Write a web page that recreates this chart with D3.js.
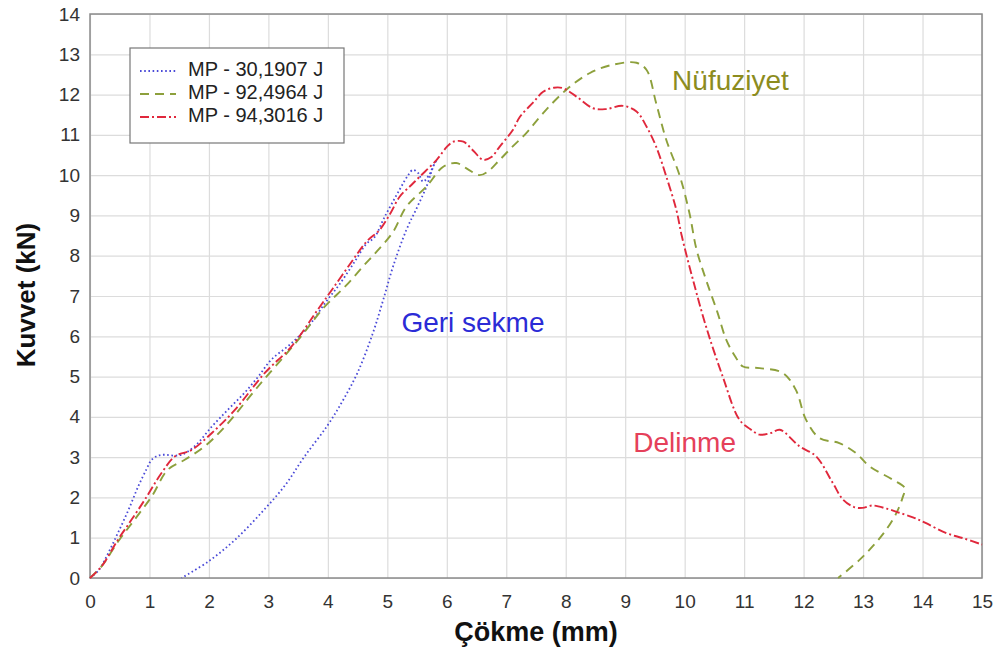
<!DOCTYPE html>
<html>
<head>
<meta charset="utf-8">
<script src="https://cdn.jsdelivr.net/npm/d3@7"></script>
<style>
  body { margin: 0; background: #fff; }
  text { font-family: Arial, "Liberation Sans", sans-serif; }
</style>
</head>
<body>
<svg id="chart" width="1000" height="655"></svg>
<script>
// ---- data ----
const xTicks = d3.range(0, 16);
const yTicks = d3.range(0, 15);

const seriesNames = ["MP - 30,1907 J", "MP - 92,4964 J", "MP - 94,3016 J"];

const blueX = [0, 0.15, 0.3, 0.47, 0.65, 0.81, 0.95, 1.04, 1.15, 1.26, 1.4, 1.54, 1.76, 2.05, 2.32, 2.6, 2.83, 3.05, 3.39, 3.7, 3.95, 4.2, 4.45, 4.65, 4.78, 4.95, 5.21, 5.35, 5.43, 5.52, 5.6, 5.7, 5.78, 5.83,
  5.77, 5.66, 5.5, 5.32, 5.1, 4.93, 4.75, 4.5, 4.25, 4.0, 3.6, 3.28, 2.9, 2.44, 2.0, 1.54];
const blueY = [0, 0.2, 0.6, 1.12, 1.7, 2.27, 2.7, 2.94, 3.04, 3.06, 3.04, 3.06, 3.27, 3.76, 4.18, 4.6, 5.0, 5.42, 5.83, 6.3, 6.82, 7.3, 7.85, 8.3, 8.45, 8.95, 9.65, 10.0, 10.13, 10.05, 9.84, 10.0, 10.25, 10.38,
  10.2, 9.72, 9.2, 8.64, 7.75, 6.9, 6.05, 5.1, 4.4, 3.8, 3.0, 2.3, 1.65, 0.95, 0.42, 0];

const greenX = [0, 0.2, 0.47, 0.75, 1.04, 1.31, 1.6, 1.93, 2.27, 2.83, 3.5, 3.95, 4.3, 4.6, 4.82, 5.1, 5.32, 5.66, 5.94, 6.16, 6.35, 6.55, 6.7, 6.89, 7.1, 7.34, 7.62, 8.01, 8.4, 8.79, 9.19, 9.36, 9.52, 9.69, 9.92, 10.08, 10.2, 10.36, 10.55, 10.7, 10.85, 10.98, 11.26, 11.65, 11.87, 12.04, 12.27, 12.6, 12.88, 13.11, 13.5, 13.7,
  13.67, 13.56, 13.39, 13.2, 12.94, 12.58];
const greenY = [0, 0.3, 0.9, 1.45, 2.03, 2.69, 2.94, 3.27, 3.76, 4.76, 5.91, 6.74, 7.25, 7.75, 8.1, 8.6, 9.22, 9.72, 10.21, 10.3, 10.15, 10.0, 10.1, 10.38, 10.7, 11.05, 11.54, 12.12, 12.53, 12.74, 12.79, 12.61, 11.79, 10.88, 9.97, 9.06, 8.15, 7.4, 6.6, 5.91, 5.5, 5.25, 5.21, 5.09, 4.67, 3.93, 3.47, 3.35, 3.1, 2.77, 2.44, 2.23,
  2.02, 1.61, 1.2, 0.85, 0.45, 0];

const redX = [0, 0.2, 0.47, 0.7, 0.92, 1.2, 1.43, 1.71, 2.05, 2.44, 2.94, 3.39, 3.83, 4.09, 4.4, 4.65, 4.87, 5.05, 5.21, 5.4, 5.55, 5.83, 6.0, 6.11, 6.28, 6.45, 6.61, 6.75, 6.89, 7.11, 7.23, 7.45, 7.62, 7.8, 7.95, 8.18, 8.46, 8.68, 8.96, 9.19, 9.36, 9.52, 9.69, 9.86, 9.95, 10.14, 10.36, 10.64, 10.92, 11.1, 11.26, 11.45, 11.6, 11.93, 12.21, 12.49, 12.66, 12.85, 12.99, 13.16, 13.4, 13.61, 13.85, 14.06, 14.39, 14.7, 15];
const redY = [0, 0.3, 0.95, 1.45, 1.94, 2.6, 3.02, 3.18, 3.6, 4.18, 5.09, 5.75, 6.66, 7.2, 7.85, 8.35, 8.64, 9.05, 9.47, 9.75, 9.97, 10.38, 10.7, 10.83, 10.83, 10.6, 10.38, 10.45, 10.71, 11.12, 11.45, 11.8, 12.07, 12.17, 12.16, 11.95, 11.66, 11.64, 11.72, 11.58, 11.2, 10.71, 9.97, 9.14, 8.5, 7.4, 6.24, 5.0, 3.93, 3.7, 3.56, 3.6, 3.68, 3.27, 3.02, 2.36, 1.95, 1.76, 1.74, 1.8, 1.72, 1.62, 1.5, 1.36, 1.12, 0.98, 0.83];

const annotations = [
  { text: "Geri sekme", x: 6.44, y: 6.29, color: "#2b2bd6" },
  { text: "Nüfuziyet", x: 10.77, y: 12.29, color: "#8c8c1e" },
  { text: "Delinme", x: 10.0, y: 3.31, color: "#e5405a" }
];

// ---- layout ----
const margin = { top: 14, right: 18, bottom: 77, left: 90 };
const width = 1000, height = 655;
const innerWidth = width - margin.left - margin.right;
const innerHeight = height - margin.top - margin.bottom;

const svg = d3.select("#chart");
const innerChart = svg.append("g")
  .attr("transform", `translate(${margin.left},${margin.top})`);

const xScale = d3.scaleLinear().domain([0, 15]).range([0, innerWidth]);
const yScale = d3.scaleLinear().domain([0, 14]).range([innerHeight, 0]);

// grid (lines only, the empty tick texts are dropped)
innerChart.append("g")
  .attr("transform", `translate(0,${innerHeight})`)
  .call(d3.axisBottom(xScale).tickValues(xTicks).tickSize(-innerHeight).tickFormat(""))
  .call(g => g.select(".domain").remove())
  .call(g => g.selectAll("text").remove())
  .call(g => g.selectAll("line").attr("stroke", "#dcdcdc").attr("stroke-width", 1.2));

innerChart.append("g")
  .call(d3.axisLeft(yScale).tickValues(yTicks).tickSize(-innerWidth).tickFormat(""))
  .call(g => g.select(".domain").remove())
  .call(g => g.selectAll("text").remove())
  .call(g => g.selectAll("line").attr("stroke", "#dcdcdc").attr("stroke-width", 1.2));

// tick labels
innerChart.append("g")
  .attr("transform", `translate(0,${innerHeight})`)
  .call(d3.axisBottom(xScale).tickValues(xTicks).tickSize(0).tickPadding(17).tickFormat(d3.format("d")))
  .call(g => g.select(".domain").remove())
  .call(g => g.selectAll("text").attr("font-size", 19).attr("fill", "#333"));

innerChart.append("g")
  .call(d3.axisLeft(yScale).tickValues(yTicks).tickSize(0).tickPadding(10).tickFormat(d3.format("d")))
  .call(g => g.select(".domain").remove())
  .call(g => g.selectAll("text").attr("font-size", 19).attr("fill", "#333"));

// frame
innerChart.append("rect")
  .attr("width", innerWidth)
  .attr("height", innerHeight)
  .attr("fill", "none")
  .attr("stroke", "#8a8a8a")
  .attr("stroke-width", 1.5);

// curves
const series = [
  { name: seriesNames[0], xs: blueX, ys: blueY, color: "#4a4ad8", dash: "1.6,2.6", width: 1.8 },
  { name: seriesNames[1], xs: greenX, ys: greenY, color: "#8da03c", dash: "9,6", width: 1.9 },
  { name: seriesNames[2], xs: redX, ys: redY, color: "#e0283c", dash: "9,3,2,3", width: 1.9 }
];

const line = d3.line()
  .x(d => xScale(d[0]))
  .y(d => yScale(d[1]))
  .curve(d3.curveCatmullRom.alpha(0.5));

innerChart.selectAll(".curve")
  .data(series)
  .join("path")
    .attr("class", "curve")
    .attr("d", d => line(d.xs.map((x, i) => [x, d.ys[i]])))
    .attr("fill", "none")
    .attr("stroke", d => d.color)
    .attr("stroke-width", d => d.width)
    .attr("stroke-dasharray", d => d.dash);

// annotations
innerChart.selectAll(".annotation")
  .data(annotations)
  .join("text")
    .attr("class", "annotation")
    .attr("x", d => xScale(d.x))
    .attr("y", d => yScale(d.y))
    .attr("text-anchor", "middle")
    .attr("dominant-baseline", "middle")
    .attr("font-size", 28)
    .attr("fill", d => d.color)
    .text(d => d.text);

// legend
const legend = svg.append("g").attr("transform", "translate(130,48)");
legend.append("rect")
  .attr("width", 214)
  .attr("height", 95)
  .attr("fill", "#fff")
  .attr("stroke", "#777")
  .attr("stroke-width", 1.2);

const legendItems = legend.selectAll(".legend-item")
  .data(series)
  .join("g")
    .attr("class", "legend-item")
    .attr("transform", (d, i) => `translate(0,${23 + i * 23})`);

legendItems.append("line")
  .attr("x1", 10).attr("x2", 46)
  .attr("stroke", d => d.color)
  .attr("stroke-width", d => d.width)
  .attr("stroke-dasharray", d => d.dash);

legendItems.append("text")
  .attr("x", 58)
  .attr("dominant-baseline", "middle")
  .attr("font-size", 20)
  .attr("fill", "#222")
  .text(d => d.name);

// axis titles
svg.append("text")
  .attr("x", 536)
  .attr("y", 641)
  .attr("text-anchor", "middle")
  .attr("font-size", 27)
  .attr("font-weight", "bold")
  .attr("fill", "#111")
  .text("Çökme (mm)");

svg.append("text")
  .attr("transform", "translate(35,295) rotate(-90)")
  .attr("text-anchor", "middle")
  .attr("font-size", 26)
  .attr("font-weight", "bold")
  .attr("fill", "#111")
  .text("Kuvvet (kN)");
</script>
</body>
</html>
